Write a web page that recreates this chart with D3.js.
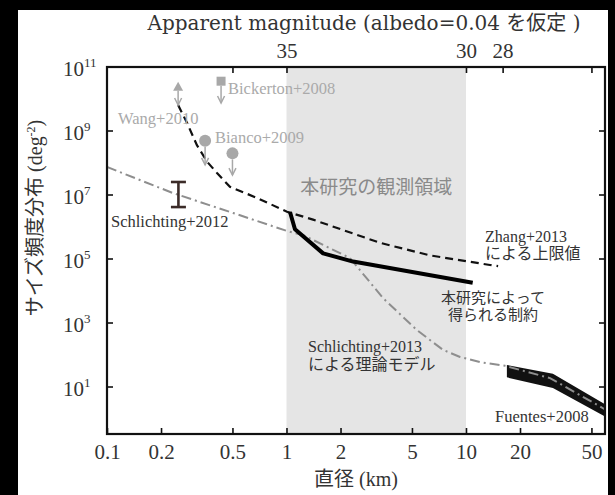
<!DOCTYPE html>
<html lang="ja">
<head>
<meta charset="UTF-8">
<title>サイズ頻度分布</title>
<style>
    *{
        margin: 0;
        padding: 0;
    }
    html, body{
        width: 100%;
        height: 100%;
        background: #000;
    }
    svg{
        display: block;
    }
    text{
        font-family: "Liberation Serif", "Noto Sans CJK JP", serif;
        fill: #333;
    }
    .cjk{
        font-family: "Noto Sans CJK JP", sans-serif;
    }
    .wide{
        font-family: "DejaVu Serif", "Noto Sans CJK JP", serif;
    }
</style>
</head>
<body>
<svg id="chart" width="615" height="495"></svg>
<script src="https://cdn.jsdelivr.net/npm/d3@7/dist/d3.min.js"></script>
<script>
    /* 軸の目盛り */
    var xTicks = [0.1, 0.2, 0.5, 1, 2, 5, 10, 20, 50];
    var xTickLabels = ["0.1", "0.2", "0.5", "1", "2", "5", "10", "20", "50"];
    var yTicks = [1e1, 1e3, 1e5, 1e7, 1e9, 1e11];
    var yTickExp = ["1", "3", "5", "7", "9", "11"];
    var magTicks = [0.5, 1, 10, 16, 50];
    var magLabels = ["", "35", "30", "28", ""];
    var surveyRange = [1, 10];

    /* Zhang+2013 による上限値 (km, deg^-2) */
    var zhangD = [0.249, 0.279, 0.317, 0.361, 0.41, 0.484, 0.685, 1.006, 1.406, 3.32, 6.3, 13.6, 15.1];
    var zhangN = [6.5e9, 1.8e9, 3.6e8, 1.1e8, 4.9e7, 1.8e7, 8.1e6, 3.0e6, 1.7e6, 3.2e5, 1.3e5, 6.5e4, 6.0e4];

    /* 本研究によって得られる制約 */
    var thisD = [1.046, 1.115, 1.6, 2.35, 10.9];
    var thisN = [2.95e6, 8.5e5, 1.5e5, 8.3e4, 1.8e4];

    /* Schlichting+2013 による理論モデル */
    var modelD = [0.1, 0.233, 0.504, 1.0, 1.236, 2.26, 3.45, 5.33, 7.44, 9.26, 11.97, 16.5, 29.4, 59.5];
    var modelN = [7.5e7, 1.15e7, 2.75e6, 7.6e5, 5.6e5, 1.07e5, 6.0e3, 6.0e2, 1.45e2, 87, 60, 46, 19, 2.0];

    /* Fuentes+2008 (上端, 下端) */
    var fuentesD = [16.9, 30.5, 59.5];
    var fuentesHi = [49, 26, 2.9];
    var fuentesLo = [20, 9.3, 1.2];

    /* Schlichting+2012 */
    var schD = 0.25, schN = 1e7, schLo = 4.2e6, schHi = 2.55e7;

    /* 上限値の点 (Wang, Bickerton, Bianco) */
    var limShape = ["triangle", "square", "circle", "circle"];
    var limD = [0.249, 0.432, 0.352, 0.5];
    var limN = [2.4e10, 3.6e10, 5.0e8, 2.0e8];
    var limEnd = [6.5e9, 7.5e9, 8.7e7, 4.2e7];

    var pL = 107, pR = 605, pT = 67, pB = 434;
    var svg = d3.select("#chart");

    /* 白い背景 */
    svg.append("rect")
        .attr("x", 18).attr("y", 10)
        .attr("width", 590).attr("height", 485)
        .attr("fill", "#fff");

    var x = d3.scaleLog().domain([0.1, 59.5]).range([pL, pR]);
    var y = d3.scaleLog().domain([0.34, 1e11]).range([pB, pT]);

    svg.append("clipPath").attr("id", "plotClip")
        .append("rect")
        .attr("x", pL).attr("y", pT)
        .attr("width", pR - pL).attr("height", pB - pT);

    /* 観測領域 */
    svg.append("rect")
        .attr("x", x(surveyRange[0]))
        .attr("y", pT)
        .attr("width", x(surveyRange[1]) - x(surveyRange[0]))
        .attr("height", pB - pT)
        .attr("fill", "#e5e5e5");

    svg.append("text")
        .attr("class", "cjk")
        .attr("x", (x(surveyRange[0]) + x(surveyRange[1])) / 2)
        .attr("y", 194)
        .attr("text-anchor", "middle")
        .style("font-size", "19px")
        .style("fill", "#8a8a8a")
        .text("本研究の観測領域");

    var plot = svg.append("g").attr("clip-path", "url(#plotClip)");

    var line = d3.line()
        .x(function (d) { return x(d[0]); })
        .y(function (d) { return y(d[1]); });

    /* Fuentes の帯 */
    var area = d3.area()
        .x(function (d) { return x(d[0]); })
        .y0(function (d) { return y(d[2]); })
        .y1(function (d) { return y(d[1]); });
    plot.append("path")
        .datum(d3.zip(fuentesD, fuentesHi, fuentesLo))
        .attr("d", area)
        .attr("fill", "#111");

    plot.append("path")
        .datum(d3.zip(zhangD, zhangN))
        .attr("d", line)
        .attr("fill", "none")
        .attr("stroke", "#111")
        .attr("stroke-width", 2.2)
        .attr("stroke-dasharray", "8,5");

    plot.append("path")
        .datum(d3.zip(modelD, modelN))
        .attr("d", line)
        .attr("fill", "none")
        .attr("stroke", "#8e8e8e")
        .attr("stroke-width", 2)
        .attr("stroke-dasharray", "10,4,2,4");

    plot.append("path")
        .datum(d3.zip(thisD, thisN))
        .attr("d", line)
        .attr("fill", "none")
        .attr("stroke", "#000")
        .attr("stroke-width", 4)
        .attr("stroke-linejoin", "round");

    /* Schlichting+2012 のエラーバー */
    var eb = svg.append("g")
        .attr("stroke", "#3b2b28")
        .attr("stroke-width", 2.6);
    eb.append("line")
        .attr("x1", x(schD)).attr("x2", x(schD))
        .attr("y1", y(schLo)).attr("y2", y(schHi));
    eb.selectAll(".cap")
        .data([schLo, schHi])
        .enter()
        .append("line")
        .attr("class", "cap")
        .attr("x1", x(schD) - 7.5).attr("x2", x(schD) + 7.5)
        .attr("y1", function (d) { return y(d); })
        .attr("y2", function (d) { return y(d); });

    /* 上限値の記号と矢印 */
    var lim = svg.append("g").attr("fill", "#a8a8a8").attr("stroke", "#a8a8a8");
    limD.forEach(function (d, i) {
        var cx = x(d), cy = y(limN[i]), ey = y(limEnd[i]);
        var g = lim.append("g");
        var start = cy;
        if (limShape[i] === "triangle") {
            g.append("path")
                .attr("d", "M" + cx + "," + (cy - 5) + "L" + (cx + 5) + "," + (cy + 4) + "L" + (cx - 5) + "," + (cy + 4) + "Z")
                .attr("stroke", "none");
            start = cy + 4;
        } else if (limShape[i] === "square") {
            g.append("rect")
                .attr("x", cx - 4.5).attr("y", cy - 4.5)
                .attr("width", 9).attr("height", 9)
                .attr("stroke", "none");
            start = cy + 4.5;
        } else {
            g.append("circle")
                .attr("cx", cx).attr("cy", cy).attr("r", 6)
                .attr("stroke", "none");
            start = cy + 6;
        }
        g.append("line")
            .attr("x1", cx).attr("x2", cx)
            .attr("y1", start).attr("y2", ey)
            .attr("stroke-width", 1.5);
        g.append("path")
            .attr("d", "M" + (cx - 3.5) + "," + (ey - 7) + "L" + cx + "," + ey + "L" + (cx + 3.5) + "," + (ey - 7))
            .attr("fill", "none")
            .attr("stroke-width", 1.5);
    });

    /* 枠と目盛り */
    svg.append("rect")
        .attr("x", pL).attr("y", pT)
        .attr("width", pR - pL).attr("height", pB - pT)
        .attr("fill", "none")
        .attr("stroke", "#111")
        .attr("stroke-width", 2.2);

    var xAxis = svg.append("g")
        .attr("transform", "translate(0," + pB + ")")
        .call(d3.axisBottom(x)
            .tickValues(xTicks)
            .tickFormat(function (d, i) { return xTickLabels[i]; })
            .tickSize(-6)
            .tickSizeOuter(0)
            .tickPadding(10));

    var magAxis = svg.append("g")
        .attr("transform", "translate(0," + pT + ")")
        .call(d3.axisTop(x)
            .tickValues(magTicks)
            .tickFormat(function (d, i) { return magLabels[i]; })
            .tickSize(-6)
            .tickSizeOuter(0)
            .tickPadding(9));

    [xAxis, magAxis].forEach(function (a) {
        a.select(".domain").remove();
        a.selectAll("line").attr("stroke", "#111").attr("stroke-width", 1.6);
        a.selectAll("text")
            .style("font-family", "'Liberation Serif', serif")
            .style("font-size", "21px")
            .style("fill", "#333");
    });

    var yAxis = svg.append("g");
    yAxis.selectAll(".tl")
        .data(yTicks)
        .enter()
        .append("line")
        .attr("class", "tl")
        .attr("x1", pL).attr("x2", pL + 6)
        .attr("y1", function (d) { return y(d); })
        .attr("y2", function (d) { return y(d); })
        .attr("stroke", "#111").attr("stroke-width", 1.6);
    yAxis.selectAll(".tr")
        .data(yTicks)
        .enter()
        .append("line")
        .attr("class", "tr")
        .attr("x1", pR - 6).attr("x2", pR)
        .attr("y1", function (d) { return y(d); })
        .attr("y2", function (d) { return y(d); })
        .attr("stroke", "#111").attr("stroke-width", 1.6);
    var yLab = yAxis.selectAll(".yl")
        .data(yTicks)
        .enter()
        .append("text")
        .attr("class", "yl")
        .attr("x", 63)
        .attr("y", function (d) { return y(d) + 9; })
        .style("font-size", "21px");
    yLab.append("tspan").text("10");
    yLab.append("tspan")
        .attr("dy", -9)
        .style("font-size", "13px")
        .text(function (d, i) { return yTickExp[i]; });

    /* 軸タイトル */
    svg.append("text")
        .attr("class", "wide")
        .attr("x", 364).attr("y", 30)
        .attr("text-anchor", "middle")
        .style("font-size", "20px")
        .text("Apparent magnitude (albedo=0.04 を仮定 )");

    svg.append("text")
        .attr("x", (pL + pR) / 2).attr("y", 486)
        .attr("text-anchor", "middle")
        .style("font-size", "20px")
        .text("直径 (km)");

    var yt = svg.append("text")
        .attr("transform", "translate(42,218) rotate(-90)")
        .attr("text-anchor", "middle")
        .style("font-size", "20px");
    yt.append("tspan").text("サイズ頻度分布 (deg");
    yt.append("tspan").attr("dy", -7).style("font-size", "12px").text("-2");
    yt.append("tspan").attr("dy", 7).text(")");

    /* 注記 */
    function note(tx, ty, lines, size, anchor, color, gap) {
        var t = svg.append("text")
            .attr("x", tx).attr("y", ty)
            .attr("text-anchor", anchor)
            .style("font-size", size + "px")
            .style("fill", color);
        lines.forEach(function (s, i) {
            t.append("tspan")
                .attr("x", tx)
                .attr("dy", i === 0 ? 0 : gap)
                .text(s);
        });
    }
    note(118, 124, ["Wang+2010"], 16.5, "start", "#aaa", 0);
    note(228, 94, ["Bickerton+2008"], 16.5, "start", "#aaa", 0);
    note(215, 143, ["Bianco+2009"], 16.5, "start", "#aaa", 0);
    note(111, 227, ["Schlichting+2012"], 16.5, "start", "#333", 0);
    note(485, 242, ["Zhang+2013", "による上限値"], 16, "start", "#333", 17);
    note(493, 303, ["本研究によって", "得られる制約"], 15, "middle", "#333", 16.5);
    note(308, 352, ["Schlichting+2013", "による理論モデル"], 16, "start", "#333", 17.5);
    note(495, 422, ["Fuentes+2008"], 16.5, "start", "#333", 0);
</script>
</body>
</html>
